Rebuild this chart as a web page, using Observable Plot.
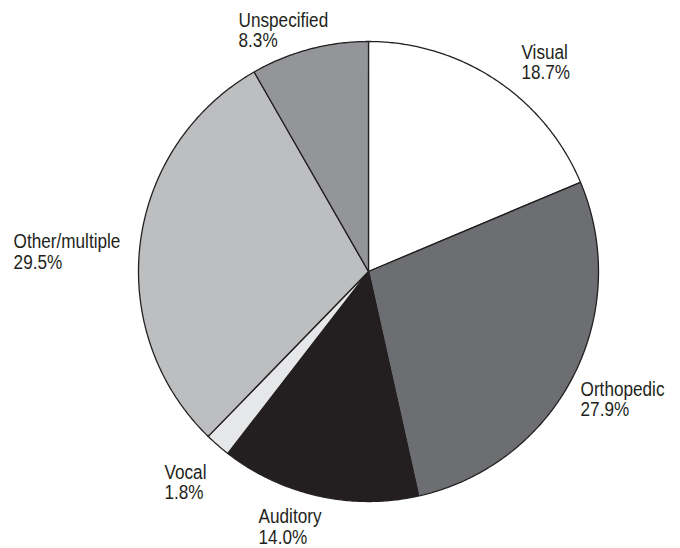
<!DOCTYPE html>
<html>
<head>
<meta charset="utf-8">
<script src="https://cdn.jsdelivr.net/npm/d3@7"></script>
<script src="https://cdn.jsdelivr.net/npm/@observablehq/plot@0.6"></script>
<style>
  html, body { margin: 0; padding: 0; background: #ffffff; }
  #chart svg { display: block; overflow: visible; }
</style>
</head>
<body>
<div id="chart"></div>
<script>
// Disability categories, clockwise from 12 o'clock
const categories = ["Visual", "Orthopedic", "Auditory", "Vocal", "Other/multiple", "Unspecified"];
// Percent share of each category
const shares = [18.7, 27.9, 14.0, 1.8, 29.5, 8.3];
// Percent labels as printed
const shareLabels = ["18.7%", "27.9%", "14.0%", "1.8%", "29.5%", "8.3%"];
// Slice fills
const sliceFills = ["#ffffff", "#6d6e71", "#231f20", "#e6e7e8", "#bcbec0", "#939598"];

// Label anchors (left edge, baseline of last line) in pie-radius units
const labelU = [0.665, 0.922, -0.478, -0.887, -1.543, -0.565];
const labelV = [0.835, -0.630, -1.184, -0.991, 0.013, 0.974];

const W = 680, H = 548;
const cx = 368, cy = 271, R = 230; // pie centre and radius in pixels

// Build slice outlines in unit coordinates (angle measured clockwise from top)
const arcs = d3.pie().sort(null).value(d => d)(shares);
const outline = [];
arcs.forEach((a, i) => {
  const cat = categories[i];
  outline.push({cat, u: 0, v: 0});
  const steps = Math.max(2, Math.ceil((a.endAngle - a.startAngle) / (Math.PI / 360)));
  for (let k = 0; k <= steps; ++k) {
    const t = a.startAngle + (a.endAngle - a.startAngle) * k / steps;
    outline.push({cat, u: Math.sin(t), v: Math.cos(t)});
  }
});

const labels = categories.map((c, i) => ({
  text: c + "\n" + shareLabels[i],
  u: labelU[i],
  v: labelV[i]
}));

const chart = Plot.plot({
  width: W,
  height: H,
  margin: 0,
  style: {background: "#ffffff"},
  x: {domain: [-cx / R, (W - cx) / R], range: [0, W], axis: null},
  y: {domain: [-(H - cy) / R, cy / R], range: [H, 0], axis: null},
  color: {domain: categories, range: sliceFills},
  marks: [
    Plot.line(outline, {
      x: "u",
      y: "v",
      z: "cat",
      fill: "cat",
      stroke: "#231f20",
      strokeWidth: 1.3,
      strokeLinejoin: "miter",
      curve: "linear-closed"
    }),
    Plot.text(labels, {
      x: "u",
      y: "v",
      text: "text",
      textAnchor: "start",
      lineAnchor: "bottom",
      lineHeight: 1.05,
      fontSize: 19.5,
      fontFamily: "Liberation Sans, Arial, sans-serif",
      fill: "#231f20"
    })
  ]
});

// Narrow the label face horizontally (condensed grotesque look)
d3.select(chart).selectAll("g[aria-label='text'] text").attr("transform", function () {
  return (this.getAttribute("transform") || "") + " scale(0.88,1)";
});

document.getElementById("chart").appendChild(chart);
</script>
</body>
</html>
